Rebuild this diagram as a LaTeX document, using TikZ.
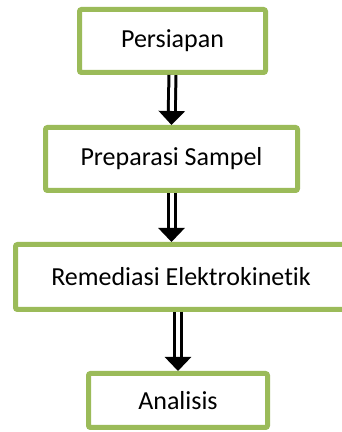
\documentclass[tikz,border=0pt]{standalone}
\usepackage{fontspec}
\setmainfont{Carlito}[Ligatures={TeX,NoCommon}]
\usetikzlibrary{arrows.meta}
\definecolor{boxgreen}{RGB}{155,187,89}
\begin{document}
\begin{tikzpicture}[x=1pt,y=1pt,
    stepbox/.style={draw=boxgreen, line width=5pt, rounded corners=2pt, fill=white,
        inner sep=0pt, font=\fontsize{26}{30}\selectfont},
    flow/.style={draw=black, line width=3pt, double=white, double distance=4pt,
        -{Triangle[length=14pt,width=26pt]}}]
    \useasboundingbox (0,0) rectangle (341,432);
    \node[stepbox, minimum width=186pt, minimum height=63pt] (persiapan) at (172.5,391) {Persiapan};
    \node[stepbox, minimum width=252pt, minimum height=63pt] (preparasi) at (171.5,273) {Preparasi Sampel};
    \node[stepbox, minimum width=331pt, minimum height=65pt] (remediasi) at (181,155) {Remediasi Elektrokinetik};
    \node[stepbox, minimum width=179pt, minimum height=54pt] (analisis) at (178,31.5) {Analisis};

    \draw[flow] (persiapan.south) -- (preparasi.north);
    \draw[flow] (preparasi.south) -- (preparasi.south |- remediasi.north);
    \draw[flow] (remediasi.south -| analisis.north) -- (analisis.north);
\end{tikzpicture}
\end{document}
